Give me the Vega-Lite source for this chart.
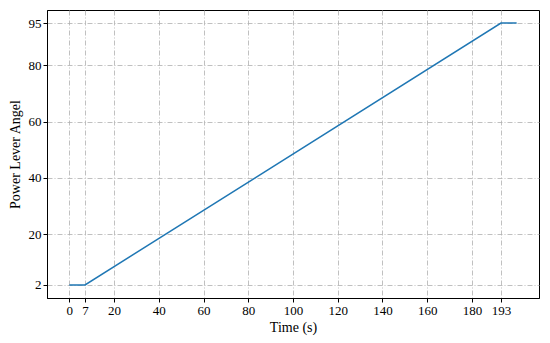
{
  "$schema": "https://vega.github.io/schema/vega-lite/v6.json",
  "width": 492,
  "height": 288,
  "autosize": "none",
  "padding": {"left": 47, "top": 10, "right": 11, "bottom": 45},
  "background": "white",
  "config": {
    "view": {"stroke": "black", "strokeWidth": 1},
    "font": "Liberation Serif",
    "axis": {
      "labelFont": "Liberation Serif",
      "titleFont": "Liberation Serif",
      "labelFontSize": 13,
      "titleFontSize": 14,
      "titleFontWeight": "normal",
      "labelColor": "black",
      "titleColor": "black",
      "domainColor": "black",
      "tickColor": "black",
      "tickSize": 4,
      "gridColor": "#b0b0b0",
      "gridDash": [5, 2, 1, 2],
      "gridWidth": 0.8,
      "gridOpacity": 1
    }
  },
  "data": {
    "values": [
      {"t": 0, "pla": 2},
      {"t": 7, "pla": 2},
      {"t": 193, "pla": 95},
      {"t": 200, "pla": 95}
    ]
  },
  "mark": {"type": "line", "color": "#1f77b4", "strokeWidth": 1.5, "clip": true},
  "encoding": {
    "x": {
      "field": "t",
      "type": "quantitative",
      "scale": {"domain": [-10, 210], "nice": false, "zero": false},
      "axis": {"values": [0, 7, 20, 40, 60, 80, 100, 120, 140, 160, 180, 193], "title": "Time (s)", "labelFlush": false, "titlePadding": 3}
    },
    "y": {
      "field": "pla",
      "type": "quantitative",
      "scale": {"domain": [-2.65, 99.65], "nice": false, "zero": false},
      "axis": {"values": [2, 20, 40, 60, 80, 95], "title": "Power Lever Angel", "labelFlush": false, "titlePadding": 6}
    }
  }
}
